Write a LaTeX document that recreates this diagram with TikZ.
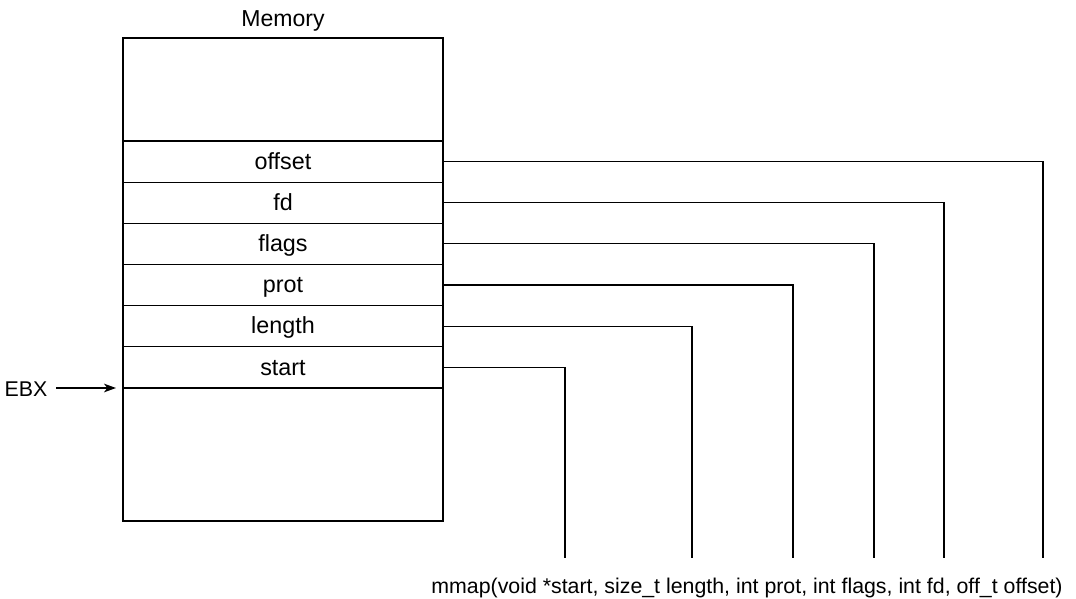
\documentclass[tikz,border=0pt]{standalone}
\usepackage{fontspec}
\setmainfont{Liberation Sans}
\usetikzlibrary{arrows.meta}
\begin{document}
\begin{tikzpicture}[x=0.75pt,y=-0.75pt, line width=0.9pt,
  lbl/.style={font=\fontsize{16}{19}\selectfont, inner sep=0pt},
  cell/.style={draw, minimum width=240pt, minimum height=30.9pt, inner sep=0pt, text height=11.5pt, text depth=0pt, font=\fontsize{17.5}{20}\selectfont},
  wire/.style={draw, line width=0.9pt},
  ptr/.style={draw, line width=0.9pt, -{Stealth[length=9pt,width=6.5pt,inset=2.5pt]}}]
\useasboundingbox (0,0) rectangle (1076,599);
\node[draw, minimum width=240pt, minimum height=362.25pt, inner sep=0pt] (mem) at (283,279.5) {};
\node[lbl, anchor=base, font=\fontsize{17.3}{20}\selectfont] (title) at (283,27) {Memory};
\node[cell] (offset) at (283,161.6) {offset};
\node[cell] (fd) at (283,202.75) {fd};
\node[cell] (flags) at (283,243.9) {flags};
\node[cell] (prot) at (283,285.05) {prot};
\node[cell] (length) at (283,326.2) {length};
\node[cell] (start) at (283,367.35) {start};
\coordinate (cstart) at (565,558);
\coordinate (clength) at (692,558);
\coordinate (cprot) at (793,558);
\coordinate (cflags) at (874,558);
\coordinate (cfd) at (944,558);
\coordinate (coffset) at (1043,558);
\draw[wire] (offset.east) -| (coffset);
\draw[wire] (fd.east) -| (cfd);
\draw[wire] (flags.east) -| (cflags);
\draw[wire] (prot.east) -| (cprot);
\draw[wire] (length.east) -| (clength);
\draw[wire] (start.east) -| (cstart);
\node[lbl, anchor=base east] (ebx) at (48,397) {EBX};
\coordinate (ebxtip) at (116,388);
\draw[ptr] ([xshift=6pt]ebx.east |- ebxtip) -- (ebxtip);
\node[lbl, anchor=base] (call) at (747,593) {mmap(void *start, size\_t length, int prot, int flags, int fd, off\_t offset)};
\end{tikzpicture}
\end{document}
